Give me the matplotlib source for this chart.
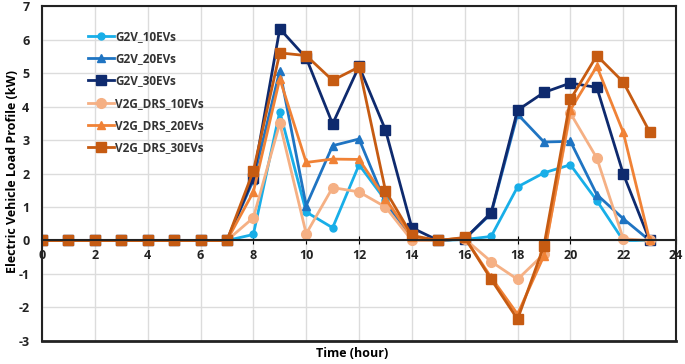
import matplotlib.pyplot as plt
import numpy as np

# hourly EV load profile (kW), hours 0..23
hours = np.arange(24)

g2v_10 = [0, 0, 0, 0, 0, 0, 0, 0, 0.18, 3.85, 0.85, 0.38, 2.26, 1.2, 0.05, 0,
          0.03, 0.12, 1.6, 2.02, 2.26, 1.19, 0.0, 0.0]
g2v_20 = [0, 0, 0, 0, 0, 0, 0, 0, 1.8, 5.07, 1.04, 2.83, 3.03, 1.13, 0.1, 0,
          0.05, 0.8, 3.77, 2.94, 2.96, 1.37, 0.65, 0.0]
g2v_30 = [0, 0, 0, 0, 0, 0, 0, 0, 1.88, 6.32, 5.45, 3.48, 5.2, 3.3, 0.38, 0,
          0.05, 0.83, 3.89, 4.42, 4.7, 4.57, 1.99, 0.0]
v2g_10 = [0, 0, 0, 0, 0, 0, 0, 0, 0.68, 3.5, 0.2, 1.58, 1.45, 1.0, 0.0, 0,
          0.05, -0.63, -1.16, -0.4, 3.8, 2.46, 0.05, 0.0]
v2g_20 = [0, 0, 0, 0, 0, 0, 0, 0, 1.45, 4.83, 2.33, 2.43, 2.42, 1.25, 0.1, 0,
          0.08, -1.1, -2.2, -0.45, 3.9, 5.2, 3.23, 0.0]
v2g_30 = [0, 0, 0, 0, 0, 0, 0, 0, 2.08, 5.6, 5.52, 4.78, 5.18, 1.49, 0.15, 0,
          0.09, -1.16, -2.35, -0.15, 4.21, 5.52, 4.73, 3.24]

labels = ['G2V_10EVs', 'G2V_20EVs', 'G2V_30EVs',
          'V2G_DRS_10EVs', 'V2G_DRS_20EVs', 'V2G_DRS_30EVs']
colors = ['#18aee8', '#1f74c2', '#0e2a6e', '#f5b084', '#f08236', '#c65b12']
markers = ['o', '^', 's', 'o', '^', 's']
msizes = [5, 5.5, 7, 7, 5.5, 7.5]

plt.rcParams['font.family'] = ['Open Sans', 'DejaVu Sans']
plt.rcParams['axes.unicode_minus'] = False

fig = plt.figure(figsize=(6.85, 3.64), dpi=100)
ax = fig.add_axes([0.0613, 0.0632, 0.9257, 0.9203])

series = [g2v_10, g2v_20, g2v_30, v2g_10, v2g_20, v2g_30]
for vals, lab, c, m, ms in zip(series, labels, colors, markers, msizes):
    ax.plot(hours, vals, color=c, marker=m, markersize=ms, linewidth=2, label=lab)

ax.set_xlim(0, 24)
ax.set_ylim(-3, 7)
ax.set_xticks(np.arange(0, 25, 2))
ax.set_yticks(np.arange(-3, 8, 1))
ax.grid(True, color='#dcdcdc', linewidth=1)
ax.set_axisbelow(True)

# x axis sits on y=0, keep a frame line at the bottom too
ax.spines['bottom'].set_position(('data', 0))
for s in ax.spines.values():
    s.set_linewidth(1.5)
    s.set_color('#222222')
ax.axhline(-3, color='#222222', linewidth=2, clip_on=False)
ax.tick_params(axis='x', direction='inout', length=6, pad=3, labelsize=9)
ax.tick_params(axis='y', length=0, pad=9, labelsize=9)
for t in ax.get_xticklabels() + ax.get_yticklabels():
    t.set_fontweight('bold')
    t.set_color('#222222')

fig.text(0.018, 0.53, 'Electric Vehicle Load Profile (kW)', fontsize=9, fontweight='bold',
         rotation=90, ha='center', va='center')
fig.text(0.514, 0.012, 'Time (hour)', fontsize=9, fontweight='bold', ha='center', va='bottom')

leg = ax.legend(loc='upper left', bbox_to_anchor=(0.073, 0.928), frameon=False,
                prop={'weight': 'bold', 'size': 8.5}, labelspacing=0.78,
                handlelength=2.2, handletextpad=0.1, borderaxespad=0, borderpad=0)
for t in leg.get_texts():
    t.set_color('#333333')

fig.savefig('out.png', dpi=100)
